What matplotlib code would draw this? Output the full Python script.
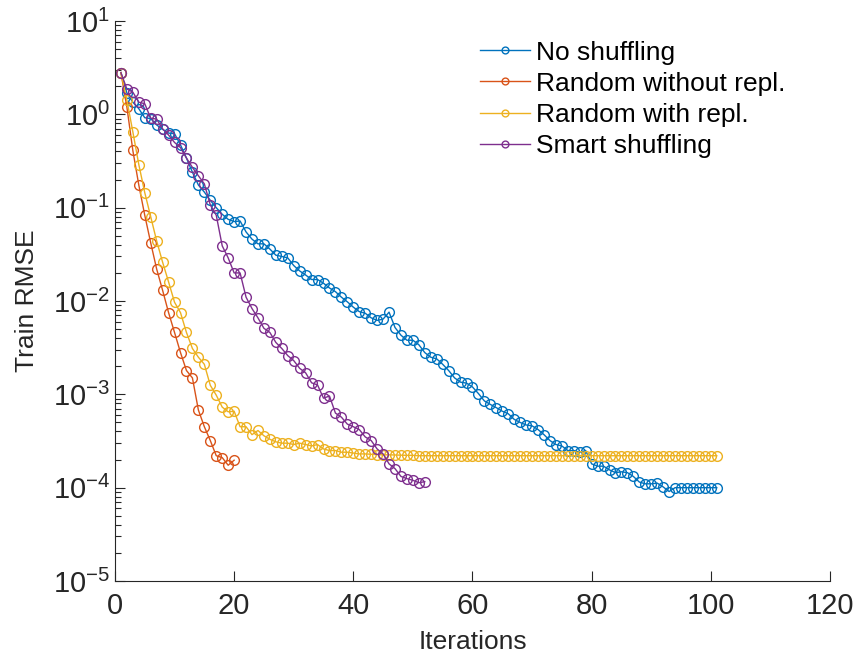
import matplotlib
matplotlib.use("Agg")
from matplotlib import pyplot as plt

plt.rcParams['font.family'] = ['Liberation Sans', 'DejaVu Sans']
plt.rcParams['mathtext.default'] = 'regular'

# train rmse per iteration
no_shuffle = [2.8, 1.7, 1.35, 1.15, 0.92, 0.90, 0.77, 0.69, 0.63, 0.62,
              0.47, 0.34, 0.24, 0.175, 0.147, 0.12, 0.10, 0.085, 0.075, 0.071,
              0.072, 0.055, 0.046, 0.041, 0.041, 0.036, 0.031, 0.030, 0.029, 0.024,
              0.021, 0.019, 0.017, 0.017, 0.0155, 0.0138, 0.0126, 0.011, 0.0098, 0.0086,
              0.0077, 0.0074, 0.0066, 0.0062, 0.0064, 0.0076, 0.0052, 0.0043, 0.0038, 0.0038,
              0.0034, 0.0028, 0.0025, 0.0024, 0.0021, 0.0018, 0.0015, 0.00135, 0.00132, 0.0012,
              0.00102, 0.00085, 0.00078, 0.00072, 0.00066, 0.00062, 0.00054, 0.00050, 0.00047, 0.00046,
              0.00042, 0.00037, 0.00032, 0.00029, 0.00028, 0.00025, 0.00025, 0.00024, 0.00025, 0.00018,
              0.00017, 0.00017, 0.000155, 0.000145, 0.000148, 0.000145, 0.000132, 0.000115, 0.00011, 0.00011,
              0.000112, 0.000102, 0.000091, 0.0001, 0.0001, 0.0001, 0.0001, 0.0001, 0.0001, 0.0001,
              0.0001]

rand_no_repl = [2.8, 1.2, 0.41, 0.175, 0.083, 0.042, 0.022, 0.013, 0.0075, 0.0046,
                0.0028, 0.0018, 0.0015, 0.00068, 0.00045, 0.00032, 0.00022, 0.00021, 0.000174, 0.000197]

rand_repl = [2.8, 1.42, 0.65, 0.29, 0.145, 0.08, 0.044, 0.026, 0.016, 0.0097,
             0.0075, 0.0046, 0.0031, 0.0025, 0.0021, 0.00125, 0.00098, 0.00073, 0.00065, 0.00066,
             0.00045, 0.00045, 0.00037, 0.00041, 0.00036, 0.00033, 0.00031, 0.00030, 0.00030, 0.00029,
             0.00030, 0.00029, 0.00028, 0.00029, 0.00026, 0.00025, 0.00025, 0.00024, 0.00024, 0.000235,
             0.00023, 0.00023, 0.000228, 0.000226, 0.000225, 0.000225, 0.000224, 0.000223, 0.000222, 0.000222,
             0.00022, 0.00022, 0.00022, 0.00022, 0.00022, 0.00022, 0.00022, 0.00022, 0.00022, 0.00022,
             0.00022, 0.00022, 0.00022, 0.00022, 0.00022, 0.00022, 0.00022, 0.00022, 0.00022, 0.00022,
             0.00022, 0.00022, 0.00022, 0.00022, 0.00022, 0.00022, 0.00022, 0.00022, 0.00022, 0.00022,
             0.00022, 0.00022, 0.00022, 0.00022, 0.00022, 0.00022, 0.00022, 0.00022, 0.00022, 0.00022,
             0.00022, 0.00022, 0.00022, 0.00022, 0.00022, 0.00022, 0.00022, 0.00022, 0.00022, 0.00022,
             0.00022]

smart = [2.8, 1.87, 1.73, 1.35, 1.30, 0.91, 0.89, 0.70, 0.60, 0.50,
         0.44, 0.34, 0.27, 0.22, 0.18, 0.107, 0.083, 0.039, 0.029, 0.020,
         0.020, 0.011, 0.0083, 0.0066, 0.0051, 0.0046, 0.0036, 0.0031, 0.0026, 0.0023,
         0.0019, 0.0017, 0.00133, 0.00126, 0.00091, 0.00096, 0.00063, 0.00057, 0.00048, 0.00045,
         0.00042, 0.00035, 0.00032, 0.00026, 0.00023, 0.00018, 0.00016, 0.000132, 0.000125, 0.00012,
         0.000113, 0.000116]

labels = ["No shuffling", "Random without repl.", "Random with repl.", "Smart shuffling"]
colors = ["#0072BD", "#D95319", "#EDB120", "#7E2F8E"]

fig = plt.figure(figsize=(8.56, 6.61), dpi=100)
ax = fig.add_axes([0.1343, 0.121, 0.8353, 0.8472])

for ys, lab, c in zip([no_shuffle, rand_no_repl, rand_repl, smart], labels, colors):
    xs = list(range(1, len(ys) + 1))
    ax.plot(xs, ys, color=c, lw=1.0, marker="o", ms=7, mfc="none", mew=1.0, label=lab)

ax.set_yscale("log")
ax.set_xlim(0, 120)
ax.set_ylim(1e-5, 1e1)
ax.set_xticks([0, 20, 40, 60, 80, 100, 120])
ax.set_yticks([1e-5, 1e-4, 1e-3, 1e-2, 1e-1, 1e0, 1e1])

for s in ["top", "right"]:
    ax.spines[s].set_visible(False)
for s in ["left", "bottom"]:
    ax.spines[s].set_color("#262626")
    ax.spines[s].set_linewidth(0.8)

ax.tick_params(which="both", direction="in", colors="#262626", labelsize=21, width=0.8)
ax.tick_params(which="major", length=7)
ax.tick_params(which="minor", length=4)
ax.tick_params(axis="x", pad=8)

ax.set_xlabel("Iterations", fontsize=19, color="#262626", labelpad=7)
ax.set_ylabel("Train RMSE", fontsize=19, color="#262626", labelpad=10)

ax.legend(loc="upper left", bbox_to_anchor=(0.496, 0.984), frameon=False, fontsize=19,
          handlelength=1.9, handletextpad=0.2, labelspacing=0.27, borderaxespad=0,
          markerscale=0.7)

fig.savefig("out.png", dpi=100)
